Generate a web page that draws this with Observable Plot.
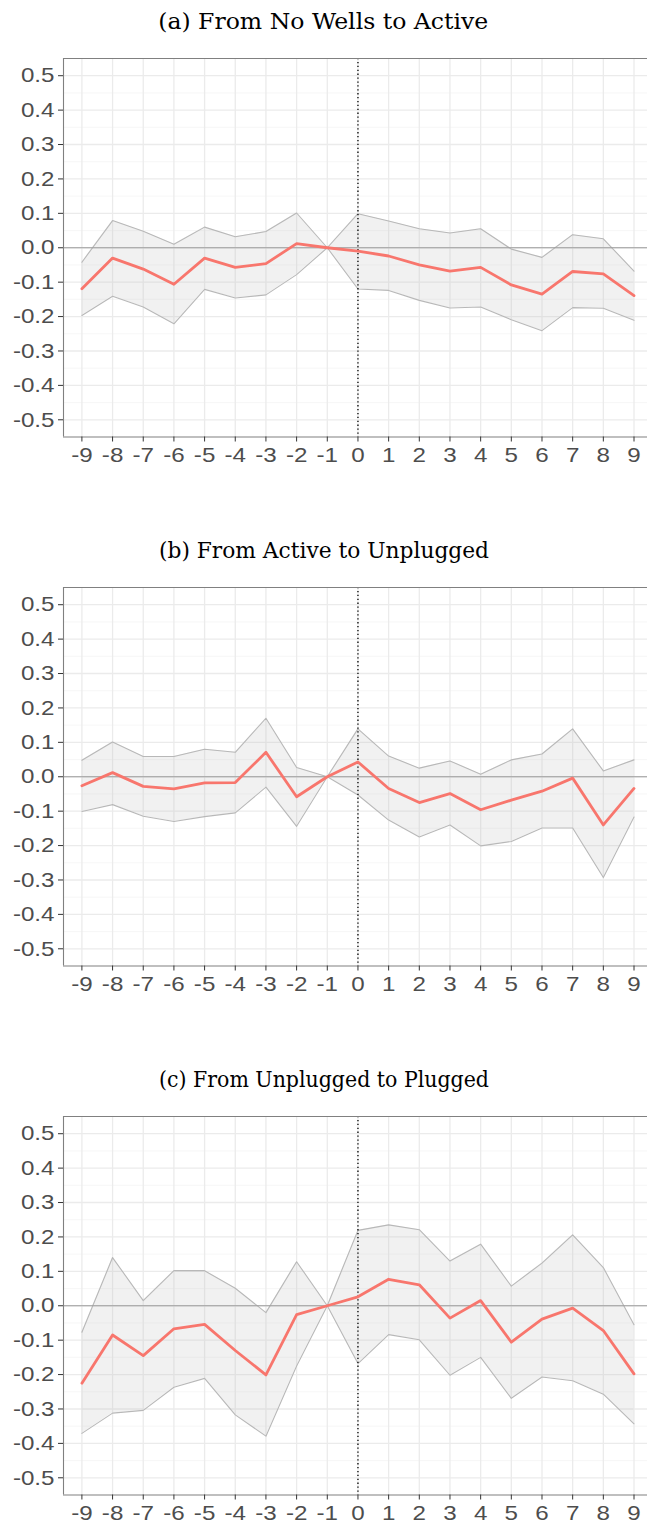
<!DOCTYPE html>
<html><head><meta charset="utf-8">
<script src="https://cdn.jsdelivr.net/npm/d3@7"></script>
<script src="https://cdn.jsdelivr.net/npm/@observablehq/plot@0.6"></script>
<style>
body{margin:0;background:#fff;width:647px;}
.panel{position:relative;width:647px;overflow:hidden;}
.title{height:40px;box-sizing:border-box;padding-top:11px;font-family:"DejaVu Serif","Liberation Serif",serif;font-size:22px;line-height:1;text-align:center;color:#000;white-space:nowrap;}
.title span{display:inline-block;transform-origin:center;}
svg{display:block;}
</style></head><body><div id="chart"></div>
<script>
const periods = [-9,-8,-7,-6,-5,-4,-3,-2,-1,0,1,2,3,4,5,6,7,8,9];
const yTicks = [-0.5,-0.4,-0.3,-0.2,-0.1,0,0.1,0.2,0.3,0.4,0.5];
const yMinor = [-0.45,-0.35,-0.25,-0.15,-0.05,0.05,0.15,0.25,0.35,0.45];
const xDomain = [-9.6, 9.44];
const yDomain = [-0.55, 0.55];
const titles = ["(a) From No Wells to Active", "(b) From Active to Unplugged", "(c) From Unplugged to Plugged"];

const estA = [-0.119,-0.030,-0.062,-0.106,-0.030,-0.057,-0.046,0.012,0,-0.010,-0.024,-0.050,-0.068,-0.057,-0.108,-0.135,-0.069,-0.076,-0.139];
const hiA  = [-0.042,0.079,0.048,0.010,0.060,0.032,0.047,0.101,0,0.099,0.078,0.055,0.043,0.055,-0.004,-0.028,0.038,0.026,-0.068];
const loA  = [-0.197,-0.141,-0.172,-0.221,-0.121,-0.146,-0.137,-0.078,0,-0.120,-0.124,-0.153,-0.175,-0.172,-0.209,-0.241,-0.174,-0.176,-0.211];

const estB = [-0.026,0.012,-0.028,-0.035,-0.018,-0.017,0.071,-0.058,0,0.043,-0.034,-0.075,-0.049,-0.096,-0.068,-0.042,-0.004,-0.140,-0.034];
const hiB  = [0.048,0.101,0.059,0.059,0.080,0.071,0.170,0.027,0,0.139,0.060,0.025,0.046,0.007,0.049,0.066,0.139,0.017,0.049];
const loB  = [-0.101,-0.081,-0.115,-0.130,-0.116,-0.105,-0.030,-0.144,0,-0.053,-0.126,-0.175,-0.140,-0.201,-0.188,-0.149,-0.149,-0.293,-0.117];

const estC = [-0.225,-0.085,-0.145,-0.067,-0.054,-0.130,-0.201,-0.026,0,0.026,0.077,0.061,-0.036,0.015,-0.106,-0.039,-0.007,-0.072,-0.198];
const hiC  = [-0.077,0.140,0.015,0.102,0.102,0.051,-0.020,0.128,0,0.219,0.235,0.221,0.130,0.179,0.057,0.124,0.206,0.111,-0.055];
const loC  = [-0.371,-0.312,-0.304,-0.237,-0.211,-0.317,-0.379,-0.175,0,-0.168,-0.084,-0.099,-0.202,-0.150,-0.269,-0.207,-0.218,-0.257,-0.343];

const series = [[estA,hiA,loA],[estB,hiB,loB],[estC,hiC,loC]];
const panelHeights = [529, 529, 469];
const plotTop = 18, plotH = 378.5;
const titleWidth = 330;   // rendered width of the reference titles
const labelStretch = 1.15; // reference tick labels are horizontally wide

const root = document.getElementById("chart");
series.forEach(([est, hi, lo], i) => {
  const rows = periods.map((t, j) => ({t, est: est[j], hi: hi[j], lo: lo[j]}));
  const panel = document.createElement("div");
  panel.className = "panel";
  panel.style.height = panelHeights[i] + "px";
  const title = document.createElement("div");
  title.className = "title";
  const span = document.createElement("span");
  span.textContent = titles[i];
  title.appendChild(span);
  panel.appendChild(title);
  const h = panelHeights[i] - 40;
  const chart = Plot.plot({
    width: 647,
    height: h,
    marginTop: plotTop,
    marginBottom: h - plotTop - plotH,
    marginLeft: 63,
    marginRight: 0,
    style: {fontFamily: "Arial, 'Liberation Sans', sans-serif", background: "#fff"},
    x: {domain: xDomain},
    y: {domain: yDomain},
    marks: [
      Plot.ruleY(yMinor, {stroke: "#f3f3f3", strokeWidth: 0.7}),
      Plot.ruleY(yTicks, {stroke: "#ebebeb", strokeWidth: 1.3}),
      Plot.ruleX(periods, {stroke: "#ebebeb", strokeWidth: 1.3}),
      Plot.areaY(rows, {x: "t", y1: "lo", y2: "hi", fill: "#bfbfbf", fillOpacity: 0.22}),
      Plot.lineY(rows, {x: "t", y: "hi", stroke: "#b8b8b8", strokeWidth: 1.1}),
      Plot.lineY(rows, {x: "t", y: "lo", stroke: "#b8b8b8", strokeWidth: 1.1}),
      Plot.ruleY([0], {stroke: "#9c9c9c", strokeWidth: 1.2}),
      Plot.ruleX([0], {stroke: "#000", strokeWidth: 1.3, strokeDasharray: "1.3,2.6"}),
      Plot.lineY(rows, {x: "t", y: "est", stroke: "#F8766D", strokeWidth: 2.8}),
      Plot.ruleY([yDomain[1]], {stroke: "#808080", strokeWidth: 1.1}),
      Plot.ruleY([yDomain[0]], {stroke: "#808080", strokeWidth: 1.1}),
      Plot.ruleX([xDomain[0]], {stroke: "#808080", strokeWidth: 1.1}),
      Plot.axisX(periods, {tickSize: 5, tickPadding: 5, fontSize: 21, stroke: "#333", fill: "#4d4d4d", tickFormat: d => String(d), label: null}),
      Plot.axisY(yTicks, {tickSize: 5, tickPadding: 4, fontSize: 21, stroke: "#333", fill: "#4d4d4d", tickFormat: d => d.toFixed(1), label: null})
    ]
  });
  panel.appendChild(chart);
  root.appendChild(panel);
  // widen tick labels like the reference
  chart.querySelectorAll('g[aria-label$="tick label"] text').forEach(t => {
    const len = t.getComputedTextLength();
    t.setAttribute("textLength", (len * labelStretch).toFixed(2));
    t.setAttribute("lengthAdjust", "spacingAndGlyphs");
  });
  const w = span.getBoundingClientRect().width;
  span.style.transform = `scaleX(${(titleWidth / w).toFixed(4)})`;
});
</script>
</body></html>
